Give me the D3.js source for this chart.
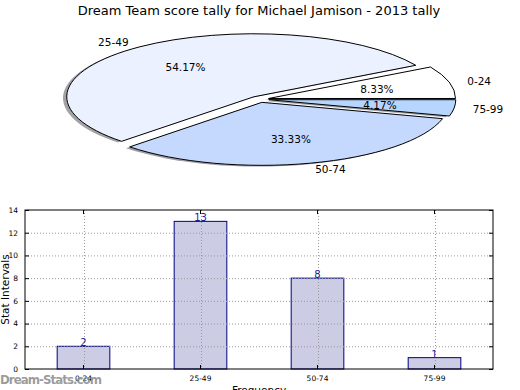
<!DOCTYPE html>
<html><head><meta charset="utf-8">
<script src="https://cdn.jsdelivr.net/npm/d3@7"></script>
<style>body{margin:0;background:#fff} svg{display:block} text{font-family:"DejaVu Sans",sans-serif}</style>
</head><body><svg id="c" width="520" height="390"></svg>
<script>
// ---- data ----
const categories = ["0-24", "25-49", "50-74", "75-99"];
const counts = [2, 13, 8, 1];
const yTicks = [0, 2, 4, 6, 8, 10, 12, 14];
const title = "Dream Team score tally for Michael Jamison - 2013 tally";
const xLabel = "Frequency";
const yLabel = "Stat Intervals";
const watermark = "Dream-Stats.com";

// ---- style ----
const sliceColors = ["#ffffff", "#ebf1ff", "#c5d9ff", "#b6d6ff"];
const P = {cx: 259.5, cy: 99.3, rx: 187, ry: 63, explode: 0.05, shadow: 0.02};
const B = {left: 25, right: 493, top: 210, bottom: 369, barFrac: 0.45};

const svg = d3.select("#c");
svg.append("text").attr("x", 259).attr("y", 15).attr("text-anchor", "middle")
  .attr("font-size", 13).text(title);

// ---- pie ----
const total = d3.sum(counts);
const pie = d3.pie().sort(null).startAngle(Math.PI / 2).endAngle(Math.PI / 2 - 2 * Math.PI);
const arcs = pie(counts);
const arcGen = d3.arc().innerRadius(0).outerRadius(1);
const off = a => {
  const m = (a.startAngle + a.endAngle) / 2;
  return {m, ox: P.explode * P.rx * Math.sin(m), oy: -P.explode * P.ry * Math.cos(m)};
};
const gp = svg.append("g");
arcs.forEach((a, i) => {
  const o = off(a);
  const c = d3.rgb(sliceColors[i]);
  gp.append("path")
    .attr("transform", `translate(${P.cx + o.ox - P.shadow * P.rx},${P.cy + o.oy + P.shadow * P.ry}) scale(${P.rx},${P.ry})`)
    .attr("d", arcGen(a))
    .attr("fill", d3.rgb(c.r * 0.3, c.g * 0.3, c.b * 0.3)).attr("fill-opacity", 0.5);
});
arcs.forEach((a, i) => {
  const o = off(a);
  gp.append("path")
    .attr("transform", `translate(${P.cx + o.ox},${P.cy + o.oy}) scale(${P.rx},${P.ry})`)
    .attr("d", arcGen(a))
    .attr("fill", sliceColors[i]).attr("stroke", "#000").attr("stroke-width", 1)
    .attr("vector-effect", "non-scaling-stroke").attr("stroke-linejoin", "miter");
});
arcs.forEach((a, i) => {
  const o = off(a);
  const bx = P.cx + o.ox, by = P.cy + o.oy;
  const s = Math.sin(o.m), c = Math.cos(o.m);
  gp.append("text").attr("x", bx + 1.1 * P.rx * s).attr("y", by - 1.1 * P.ry * c)
    .attr("text-anchor", s > 0 ? "start" : "end").attr("dominant-baseline", "central")
    .attr("font-size", 10.5).text(categories[i]);
  gp.append("text").attr("x", bx + 0.6 * P.rx * s).attr("y", by - 0.6 * P.ry * c)
    .attr("text-anchor", "middle").attr("dominant-baseline", "central")
    .attr("font-size", 10.5).text((counts[i] / total * 100).toFixed(2) + "%");
});

// ---- bar chart ----
const x = d3.scaleBand().domain(categories).range([B.left, B.right]).padding(0);
const y = d3.scaleLinear().domain([0, 14]).range([B.bottom, B.top]);
const bw = x.bandwidth();
const cxOf = c => x(c) + bw / 2;
const gb = svg.append("g");

gb.selectAll("rect.bar").data(categories).enter().append("rect")
  .attr("x", c => cxOf(c) - bw * B.barFrac / 2)
  .attr("y", (c, i) => y(counts[i]))
  .attr("width", bw * B.barFrac)
  .attr("height", (c, i) => y(0) - y(counts[i]))
  .attr("fill", "#ccccE5").attr("stroke", "#000080").attr("stroke-width", 1);

// grid (on top of bars)
gb.selectAll("line.hg").data(yTicks.slice(1, -1)).enter().append("line")
  .attr("x1", B.left).attr("x2", B.right).attr("y1", d => y(d) + 0.5).attr("y2", d => y(d) + 0.5)
  .attr("stroke", "#999").attr("stroke-width", 1).attr("stroke-dasharray", "1,2");
gb.selectAll("line.vg").data(categories).enter().append("line")
  .attr("x1", d => Math.round(cxOf(d)) + 0.5).attr("x2", d => Math.round(cxOf(d)) + 0.5)
  .attr("y1", B.top).attr("y2", B.bottom)
  .attr("stroke", "#999").attr("stroke-width", 1).attr("stroke-dasharray", "1,2");

// value labels
gb.selectAll("text.val").data(categories).enter().append("text")
  .attr("x", cxOf).attr("y", (c, i) => y(counts[i]))
  .attr("text-anchor", "middle").attr("font-size", 10).attr("fill", "#1a1a9a")
  .text((c, i) => counts[i]);

// axes via d3.axis with inner ticks
const yAxisL = d3.axisLeft(y).tickValues(yTicks).tickSizeInner(-4).tickSizeOuter(0).tickPadding(7);
const yAxisR = d3.axisRight(y).tickValues(yTicks).tickSizeInner(-4).tickSizeOuter(0).tickFormat("");
const xAxisB = d3.axisBottom(x).tickSizeInner(-4).tickSizeOuter(0).tickPadding(7);
const xAxisT = d3.axisTop(x).tickSizeInner(-4).tickSizeOuter(0).tickFormat("");
const ga = [
  gb.append("g").attr("transform", `translate(${B.left},0)`).call(yAxisL),
  gb.append("g").attr("transform", `translate(${B.right},0)`).call(yAxisR),
  gb.append("g").attr("transform", `translate(0,${B.bottom})`).call(xAxisB),
  gb.append("g").attr("transform", `translate(0,${B.top})`).call(xAxisT)
];
ga.forEach(g => {
  g.select(".domain").remove();
  g.selectAll("text").attr("font-family", "DejaVu Sans").attr("font-size", 7.5).attr("fill", "#000");
  g.selectAll(".tick line").attr("stroke", "#000");
});
gb.append("rect").attr("x", B.left).attr("y", B.top).attr("width", B.right - B.left).attr("height", B.bottom - B.top)
  .attr("fill", "none").attr("stroke", "#000").attr("stroke-width", 1);

svg.append("text").attr("transform", `translate(8.5,${(B.top + B.bottom) / 2}) rotate(-90)`)
  .attr("text-anchor", "middle").attr("font-size", 10.5).text(yLabel);
svg.append("text").attr("x", (B.left + B.right) / 2).attr("y", 394).attr("text-anchor", "middle")
  .attr("font-size", 10.5).text(xLabel);
svg.append("text").attr("x", 0).attr("y", 384).attr("font-size", 11.8).attr("font-weight", 600)
  .attr("fill", "#8a8a8a").attr("fill-opacity", 0.85).attr("textLength", 102).text(watermark);
</script></body></html>
